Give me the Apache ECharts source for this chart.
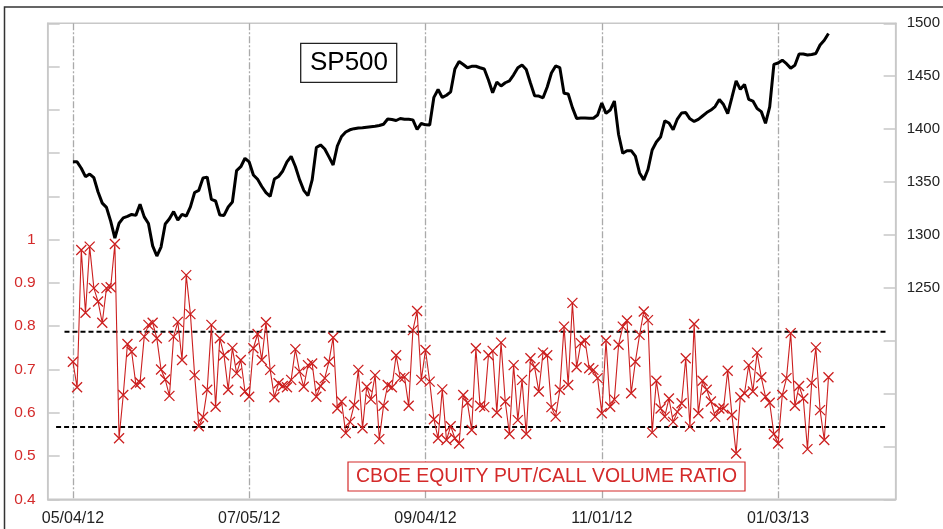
<!DOCTYPE html>
<html><head><meta charset="utf-8">
<script src="https://cdn.jsdelivr.net/npm/echarts@6/dist/echarts.min.js"></script>
<style>html,body{margin:0;padding:0;background:#fff}#c{width:943px;height:529px}</style>
</head><body><div id="c"></div>
<script>
// ---- data ----
const dateLabels = ['05/04/12','07/05/12','09/04/12','11/01/12','01/03/13'];
const daysPerLabel = 42;   // trading days between date labels
const leadSlots = 6;       // empty days before first observation
const totalSlots = 203;    // days shown on x axis

const sp500 = [
1369,1369,1363,1355,1357.5,1354,1340.5,1330,1326,1313,
1297,1311,1316,1317.4,1319.3,1318.4,1329,1317,1310.7,1289.6,
1280,1288.5,1310.3,1315.2,1322,1314,1319.3,1317.8,1326.5,1340,
1342.1,1353.7,1354.6,1333.5,1332,1318.8,1318.4,1326.3,1331,1360.8,
1364.4,1372.4,1368.9,1356.6,1352.5,1345.7,1340,1336.4,1352.8,1355.2,
1360.4,1368.9,1374.2,1364.6,1352.2,1342.1,1337.1,1351.9,1382.5,1385,
1381.2,1373.7,1366,1384,1393,1397.2,1399.3,1400.4,1401,1401.2,
1401.8,1402.3,1402.6,1403.4,1404.6,1409.5,1409,1408.1,1410,1409.3,
1409.2,1408.7,1399.6,1405.3,1404,1403.9,1430,1437.4,1429.9,1432,
1435.2,1456.8,1463.9,1461.1,1458,1459.3,1459.4,1458,1456.8,1446.4,
1434.3,1444.5,1440.7,1443.8,1445.6,1451.3,1458,1460.6,1456.3,1443.6,
1431.5,1431.2,1429.6,1439.8,1453,1459.7,1458.1,1433.8,1433.1,1420.3,
1410.1,1410.5,1410.5,1410.2,1410.2,1413.3,1424.7,1414.9,1418,1426.5,
1394.9,1377.1,1379.6,1379.6,1374.5,1358.5,1352,1361.8,1380.2,1387.8,
1392.5,1407.8,1405.7,1399.4,1409.5,1415.2,1415.6,1409.7,1407.2,1409.2,
1412.4,1415.6,1418,1421.3,1428,1423.2,1414.7,1429.9,1445.5,1437.6,
1442.2,1428.1,1426.5,1419.4,1416.5,1405.5,1420.9,1461.1,1462.5,1465.1,
1461.8,1457.6,1460.3,1471,1471,1470,1470.5,1471.5,1479.5,1484,1490.4
];

const putCall = [
.718,.659,.976,.831,.984,.888,.857,.808,.888,.890,
.990,.541,.641,.759,.741,.666,.670,.776,.803,.808,
.772,.700,.677,.639,.776,.810,.722,.918,.828,.687,
.569,.590,.653,.803,.614,.772,.733,.653,.750,.691,
.722,.649,.637,.749,.782,.722,.809,.699,.636,.668,
.662,.659,.676,.747,.695,.660,.710,.714,.637,.662,
.680,.718,.774,.610,.626,.553,.579,.618,.699,.564,
.660,.631,.687,.539,.616,.664,.659,.733,.680,.683,
.616,.791,.835,.676,.745,.672,.585,.541,.654,.537,
.569,.541,.529,.641,.623,.560,.749,.616,.613,.733,
.743,.600,.762,.626,.551,.710,.583,.676,.551,.726,
.705,.649,.739,.733,.613,.591,.653,.799,.664,.854,
.705,.761,.767,.703,.699,.680,.599,.767,.614,.631,
.757,.799,.813,.645,.718,.780,.834,.814,.554,.674,
.610,.591,.633,.579,.602,.622,.726,.568,.805,.599,
.674,.653,.626,.591,.610,.610,.697,.595,.506,.636,
.645,.710,.649,.739,.682,.637,.623,.551,.529,.641,
.680,.784,.616,.662,.633,.516,.669,.751,.606,.537,.682
];

const bandHigh = 0.787;
const bandLow = 0.567;
const bandHighStart = 4, bandLowStart = 2, bandEnd = 200;

const leftAxis = {min: 0.4, max: 1.5, step: 0.1, lastLabel: 1.0};
const rightAxis = {min: 1050, max: 1500, step: 50, firstLabel: 1250};

// ---- build ----
const categories = Array.from({length: totalSlots}, (_, i) => {
  const k = i - leadSlots;
  if (k >= 0 && k % daysPerLabel === 0 && k / daysPerLabel < dateLabels.length) return dateLabels[k / daysPerLabel];
  return 'd' + i;
});
const isDateLabel = (idx, val) => dateLabels.indexOf(val) >= 0;

const FONT = '"Liberation Sans", Arial, sans-serif';
const RED = '#d42a2a';
const MARK_RED = '#cc1f1f';
const AXIS_GRAY = '#c8c8c8';

const chart = echarts.init(document.getElementById('c'), null, {renderer: 'canvas'});
chart.setOption({
  animation: false,
  backgroundColor: '#fff',
  grid: {left: 47.7, right: 47.3, top: 23.3, bottom: 29.7, show: true, borderColor: AXIS_GRAY, borderWidth: 1.5, containLabel: false},
  xAxis: {
    type: 'category', data: categories, boundaryGap: false,
    axisLine: {lineStyle: {color: AXIS_GRAY, width: 1.5}},
    axisTick: {show: false},
    axisLabel: {interval: isDateLabel, color: '#222', fontSize: 16, fontFamily: FONT, margin: 11},
    splitLine: {show: true, interval: isDateLabel, lineStyle: {color: '#aaaaaa', width: 1.3, type: [7, 2, 2, 2]}}
  },
  yAxis: [
    {
      type: 'value', position: 'left', min: leftAxis.min, max: leftAxis.max, interval: leftAxis.step,
      axisLine: {show: true, lineStyle: {color: AXIS_GRAY, width: 1.5}},
      axisTick: {show: true, inside: true, length: 12, lineStyle: {color: AXIS_GRAY, width: 1.5}},
      axisLabel: {color: RED, fontSize: 15.5, fontFamily: FONT, margin: 12,
        formatter: v => v > leftAxis.lastLabel + 1e-6 ? '' : String(+v.toFixed(1))},
      splitLine: {show: false}
    },
    {
      type: 'value', position: 'right', min: rightAxis.min, max: rightAxis.max, interval: rightAxis.step,
      axisLine: {show: true, lineStyle: {color: AXIS_GRAY, width: 1.5}},
      axisTick: {show: true, inside: true, length: 12, lineStyle: {color: AXIS_GRAY, width: 1.5}},
      axisLabel: {color: '#222', fontSize: 15, fontFamily: FONT, margin: 11,
        formatter: v => v < rightAxis.firstLabel ? '' : String(v)},
      splitLine: {show: false}
    }
  ],
  series: [
    {
      name: 'band high', type: 'line', yAxisIndex: 0, symbol: 'none', silent: true, z: 2,
      data: [[bandHighStart, bandHigh], [bandEnd, bandHigh]],
      lineStyle: {color: '#000', width: 2, type: [5, 3]}
    },
    {
      name: 'band low', type: 'line', yAxisIndex: 0, symbol: 'none', silent: true, z: 2,
      data: [[bandLowStart, bandLow], [bandEnd, bandLow]],
      lineStyle: {color: '#000', width: 2, type: [5, 3]}
    },
    {
      name: 'Put/Call', type: 'line', yAxisIndex: 0, z: 3,
      data: putCall.map((v, i) => [i + leadSlots, v]),
      showSymbol: true, showAllSymbol: true,
      symbol: 'path://M0,0L10,10M10,0L0,10', symbolSize: 10,
      itemStyle: {color: MARK_RED, borderColor: MARK_RED, borderWidth: 1.3},
      lineStyle: {color: MARK_RED, width: 1.1}
    },
    {
      name: 'SP500', type: 'line', yAxisIndex: 1, z: 4,
      data: sp500.map((v, i) => [i + leadSlots, v]),
      showSymbol: false, symbol: 'none',
      lineStyle: {color: '#000', width: 3}
    }
  ],
  graphic: [
    {type: 'rect', shape: {x: 4.5, y: 7, width: 960, height: 600}, style: {fill: 'none', stroke: '#333', lineWidth: 1.5}, silent: true, z: 100},
    {type: 'rect', shape: {x: 300.7, y: 43.3, width: 96, height: 39}, style: {fill: '#fff', stroke: '#222', lineWidth: 1.3}, z: 100},
    {type: 'text', x: 349, y: 63, style: {text: 'SP500', font: '26px ' + FONT, fill: '#000', textAlign: 'center', textVerticalAlign: 'middle'}, z: 101},
    {type: 'rect', shape: {x: 348, y: 462, width: 397, height: 29}, style: {fill: '#fff', stroke: RED, lineWidth: 1.2}, z: 100},
    {type: 'text', x: 546.5, y: 477, style: {text: 'CBOE EQUITY PUT/CALL VOLUME RATIO', font: '19.4px ' + FONT, fill: RED, textAlign: 'center', textVerticalAlign: 'middle'}, z: 101}
  ]
});
</script>
</body></html>
